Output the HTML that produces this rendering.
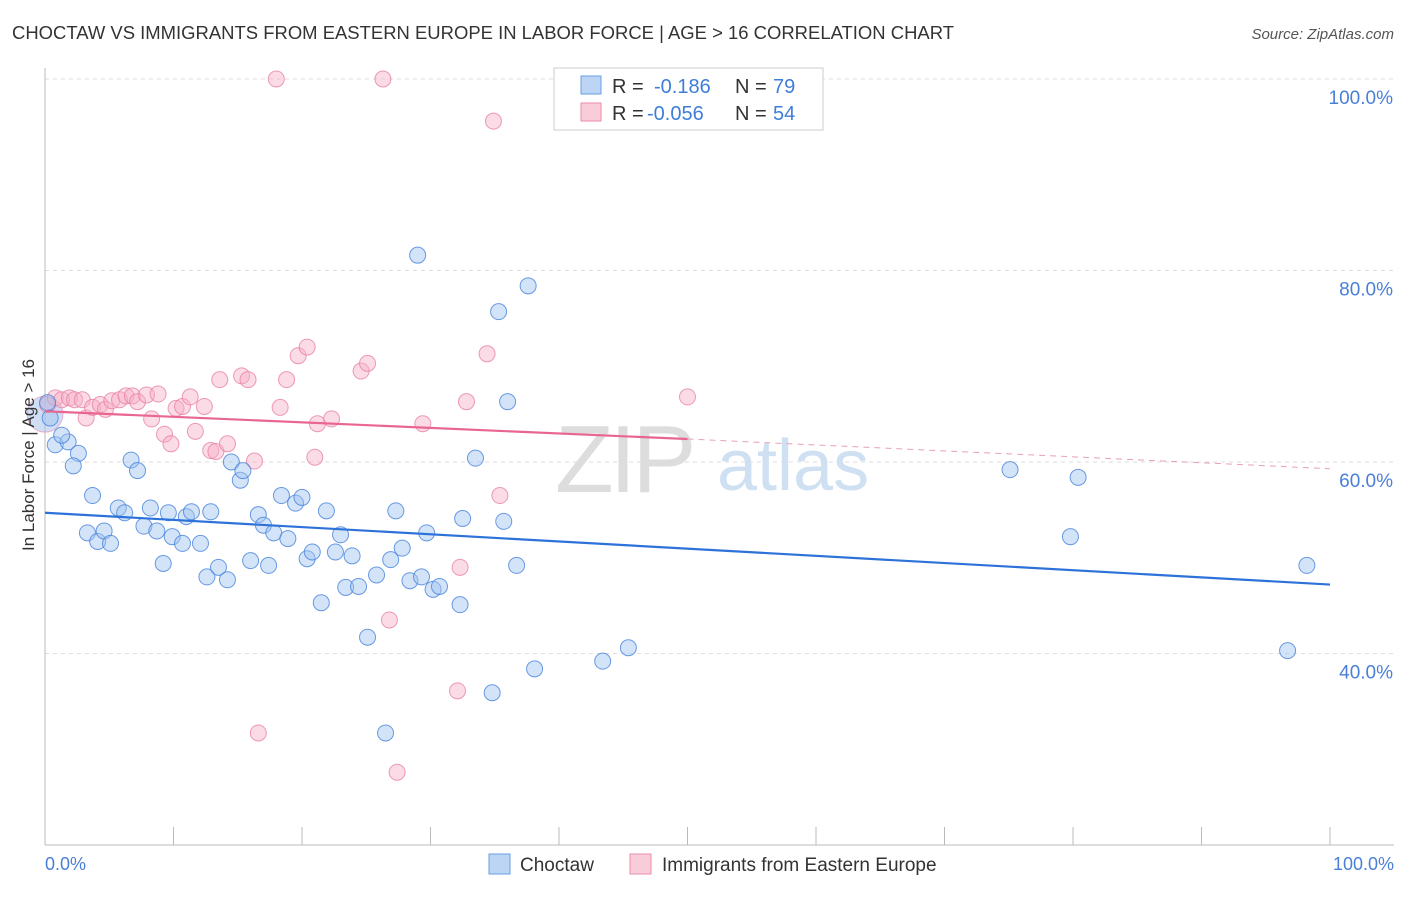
<!DOCTYPE html>
<html><head><meta charset="utf-8"><style>
body{margin:0;background:#fff;font-family:"Liberation Sans",sans-serif;}
svg text{font-family:"Liberation Sans",sans-serif;}
</style></head><body>
<svg id="chart" width="1406" height="892" xmlns="http://www.w3.org/2000/svg">
<text x="12" y="39" font-size="18" fill="#333" textLength="942" lengthAdjust="spacingAndGlyphs">CHOCTAW VS IMMIGRANTS FROM EASTERN EUROPE IN LABOR FORCE | AGE &gt; 16 CORRELATION CHART</text>
<text x="1394" y="39" font-size="15" fill="#555" text-anchor="end" font-style="italic">Source: ZipAtlas.com</text>
<g id="grid"></g>
<text x="555" y="492" font-size="96" fill="#ddd" font-family="Liberation Serif" letter-spacing="-4">ZIP</text>
<text x="717" y="490" font-size="72" fill="#cfe0f3">atlas</text>
<g id="marks"></g>
<text transform="translate(34,455) rotate(-90)" font-size="17" fill="#333" text-anchor="middle">In Labor Force | Age &gt; 16</text>
<text x="45" y="870" font-size="18" fill="#4a7fd8">0.0%</text>
<text x="1394" y="870" font-size="18" fill="#4a7fd8" text-anchor="end">100.0%</text>
<g>
<rect x="554" y="68" width="269" height="62" fill="#fff" stroke="#ccc"/>
<rect x="581" y="76" width="20" height="18" fill="#bcd5f5" stroke="#6a9ee6"/>
<rect x="581" y="103" width="20" height="18" fill="#f9ccd9" stroke="#ea8eab"/>
<text x="612" y="93" font-size="20" fill="#333">R =</text>
<text x="654" y="93" font-size="20" fill="#3f7ed8">-0.186</text>
<text x="735" y="93" font-size="20" fill="#333">N =</text>
<text x="773" y="93" font-size="20" fill="#3f7ed8">79</text>
<text x="612" y="120" font-size="20" fill="#333">R =</text>
<text x="647" y="120" font-size="20" fill="#3f7ed8">-0.056</text>
<text x="735" y="120" font-size="20" fill="#333">N =</text>
<text x="773" y="120" font-size="20" fill="#3f7ed8">54</text>
</g>
<g>
<rect x="489" y="854" width="21" height="20" fill="#bcd5f5" stroke="#6a9ee6"/>
<text x="520" y="871" font-size="19" fill="#333">Choctaw</text>
<rect x="630" y="854" width="21" height="20" fill="#f9ccd9" stroke="#ea8eab"/>
<text x="662" y="871" font-size="19" fill="#333">Immigrants from Eastern Europe</text>
</g>
</svg>
<script>
const yTicks=[100,80,60,40];
const yTickLabels=["100.0%","80.0%","60.0%","40.0%"];
const blueX=[0.8,1.8,1.3,2.6,2.2,3.7,3.3,4.1,4.6,5.1,5.7,6.2,6.7,7.2,7.7,8.2,8.7,9.2,9.6,9.9,10.7,11.0,11.4,12.1,12.6,12.9,13.5,14.2,14.5,15.2,15.4,16.0,16.6,17.0,17.4,17.8,18.4,18.9,19.5,20.0,20.4,20.8,21.5,21.9,22.6,23.0,23.4,23.9,24.4,25.1,25.8,26.5,26.9,27.3,27.8,28.4,29.0,29.3,29.7,30.2,30.7,32.3,32.5,33.5,34.8,35.3,35.7,36.0,36.7,37.6,38.1,43.4,45.4,75.1,79.8,80.4,96.7,98.2,0.2,0.4];
const blueY=[61.8,62.1,62.8,60.9,59.6,56.5,52.6,51.7,52.8,51.5,55.2,54.7,60.2,59.1,53.3,55.2,52.8,49.4,54.7,52.2,51.5,54.3,54.8,51.5,48.0,54.8,49.0,47.7,60.0,58.1,59.1,49.7,54.5,53.4,49.2,52.6,56.5,52.0,55.7,56.3,49.9,50.6,45.3,54.9,50.6,52.4,46.9,50.2,47.0,41.7,48.2,31.7,49.8,54.9,51.0,47.6,81.6,48.0,52.6,46.7,47.0,45.1,54.1,60.4,35.9,75.7,53.8,66.3,49.2,78.4,38.4,39.2,40.6,59.2,52.2,58.4,40.3,49.2,66.2,64.6];
const pinkX=[0.2,0.8,1.3,1.9,2.3,2.9,3.2,3.7,4.3,4.7,5.2,5.8,6.3,6.8,7.2,7.9,8.3,8.8,9.3,9.8,10.2,10.7,11.3,11.7,12.4,12.9,13.3,13.6,14.2,15.3,15.8,16.3,16.6,18.0,18.3,18.8,19.7,20.4,21.0,21.2,22.3,24.6,25.1,26.3,26.8,27.4,29.4,32.1,32.3,32.8,34.4,34.9,35.4,50.0];
const pinkY=[66.0,66.7,66.5,66.7,66.5,66.5,64.6,65.7,66.0,65.5,66.4,66.5,66.9,66.9,66.3,67.0,64.5,67.1,62.9,61.9,65.6,65.8,66.8,63.2,65.8,61.2,61.1,68.6,61.9,69.0,68.6,60.1,31.7,100,65.7,68.6,71.1,72.0,60.5,64.0,64.5,69.5,70.3,100,43.5,27.6,64.0,36.1,49.0,66.3,71.3,95.6,56.5,66.8];
const blueTrend=[54.7,47.2];
const pinkTrend=[65.3,62.4,59.3];
const X0=45,X1=1330,Y100=79,PX=9.575;
const xs=v=>X0+v*(X1-X0)/100, ys=v=>Y100+(100-v)*PX;
const NS="http://www.w3.org/2000/svg";
const svg=document.getElementById('chart'),grid=document.getElementById('grid'),marks=document.getElementById('marks');
function mk(t,a,p){const e=document.createElementNS(NS,t);for(const k in a)e.setAttribute(k,a[k]);(p||svg).appendChild(e);return e;}
yTicks.forEach((v,i)=>{
 const l=mk('line',{x1:45,x2:1394,y1:ys(v),y2:ys(v),stroke:'#ddd','stroke-dasharray':'4,4'},grid);
 
 
 const t=mk('text',{x:1393,y:ys(v)+25,'font-size':19,fill:'#4a7fd8','text-anchor':'end'},grid);t.textContent=yTickLabels[i];
 
 
});
const ax=mk('line',{x1:45,x2:45,y1:68,y2:845,stroke:'#bbb'},grid);


const bx=mk('line',{x1:45,x2:1394,y1:845,y2:845,stroke:'#bbb'},grid);


for(let i=0;i<=10;i++){const t=mk('line',{x1:xs(i*10),x2:xs(i*10),y1:827,y2:845,stroke:'#bbb'},grid);
 
 }
const big=mk('circle',{cx:xs(0),cy:ys(65),r:18,fill:'rgba(160,190,235,0.5)',stroke:'rgba(230,140,170,0.6)'},marks);


pinkX.forEach((x,i)=>{const c=mk('circle',{cx:xs(x),cy:ys(pinkY[i]),r:8,fill:'rgba(246,175,198,0.45)',stroke:'rgba(232,130,165,0.8)','stroke-width':1},marks);
 
 });
blueX.forEach((x,i)=>{const c=mk('circle',{cx:xs(x),cy:ys(blueY[i]),r:8,fill:'rgba(160,195,240,0.45)',stroke:'rgba(70,130,220,0.8)','stroke-width':1},marks);
 
 });
const bl=mk('line',{x1:xs(0),y1:ys(blueTrend[0]),x2:xs(100),y2:ys(blueTrend[1]),stroke:'#2d72d9','stroke-width':2.2},marks);


const pl=mk('line',{x1:xs(0),y1:ys(pinkTrend[0]),x2:xs(50),y2:ys(pinkTrend[1]),stroke:'#e8668f','stroke-width':2.2},marks);


const pd=mk('line',{x1:xs(50),y1:ys(pinkTrend[1]),x2:xs(100),y2:ys(pinkTrend[2]),stroke:'#e8a0b5','stroke-width':1,'stroke-dasharray':'6,5'},marks);


</script>
</body></html>
